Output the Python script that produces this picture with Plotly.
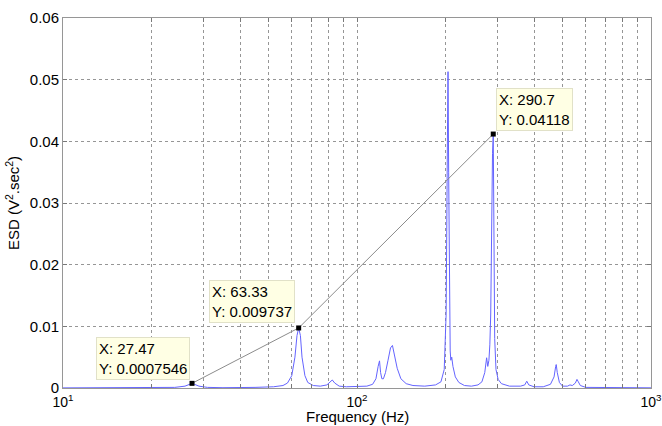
import numpy as np
import plotly.graph_objects as go

# ---- data ----
freq_hz = [10, 15, 20, 24, 26, 27, 27.47, 28, 29, 31, 35, 45, 52, 56, 58, 60, 61.5, 62.5, 63.33,
           64.2, 65, 66.5, 68, 71, 75, 79, 81, 82.4, 84, 87, 92, 100, 108, 113, 116, 118, 119.3,
           120.3, 121.5, 123, 125, 127.5, 130, 132, 134, 137, 141, 147, 155, 160, 170, 185, 193,
           198, 201, 203, 204, 205, 206, 207.5, 208.5, 210, 212, 216, 222, 232, 245, 258, 266,
           272, 276, 278.5, 281, 283, 285, 287, 289, 290.7, 292, 294, 297, 302, 310, 330, 360,
           372, 378, 384, 400, 430, 455, 468, 474, 476, 480, 488, 500, 520, 530, 540, 553, 560,
           566, 575, 600, 700, 1000]
esd_values = [0.00002, 0.00003, 0.00005, 0.0001, 0.0003, 0.0006, 0.00075, 0.0006, 0.0003, 0.0001,
              0.00005, 0.0001, 0.0002, 0.0004, 0.0008, 0.002, 0.005, 0.0085, 0.009737,
              0.0085, 0.005, 0.002, 0.0009, 0.0004, 0.0003, 0.0005, 0.0009, 0.0013, 0.0008, 0.0003,
              0.0002, 0.0002, 0.0003, 0.0006, 0.0015, 0.0035, 0.0044,
              0.0025, 0.0015, 0.0015, 0.0025, 0.0045, 0.0065, 0.0069, 0.0055, 0.0032, 0.0015,
              0.0007, 0.0004, 0.0004, 0.0003, 0.0005, 0.001,
              0.003, 0.012, 0.04, 0.0513, 0.035, 0.015, 0.006, 0.0045, 0.005, 0.0035, 0.0018,
              0.0009, 0.0004, 0.0003, 0.0005, 0.001,
              0.0025, 0.0049, 0.0035, 0.0045, 0.007, 0.012, 0.029, 0.038, 0.04118, 0.025, 0.008,
              0.003, 0.0014, 0.0007, 0.0003, 0.0003,
              0.0005, 0.0011, 0.0005, 0.0002, 0.0002, 0.0006, 0.0018, 0.0035, 0.0038, 0.0025,
              0.0009, 0.0003, 0.0003, 0.0005, 0.0004, 0.0008, 0.0014,
              0.0010, 0.0004, 0.0001, 0.00005, 0.00003]

tip_freq = [27.47, 63.33, 290.7]
tip_esd = [0.0007546, 0.009737, 0.04118]
tip_labels = ["X: 27.47<br>Y: 0.0007546", "X: 63.33<br>Y: 0.009737", "X: 290.7<br>Y: 0.04118"]

x_tickvals = [10, 20, 30, 40, 50, 60, 70, 80, 90, 100, 200, 300, 400, 500, 600, 700, 800, 900, 1000]
x_ticktext = ["10<sup>1</sup>", "", "", "", "", "", "", "", "", "10<sup>2</sup>",
              "", "", "", "", "", "", "", "", "10<sup>3</sup>"]
y_tickvals = [0, 0.01, 0.02, 0.03, 0.04, 0.05, 0.06]
y_ticktext = ["0", "0.01", "0.02", "0.03", "0.04", "0.05", "0.06"]

FONT = "Liberation Sans, Arial, sans-serif"

fig = go.Figure()
fig.add_trace(go.Scatter(x=freq_hz, y=esd_values, mode="lines",
                         line=dict(color="rgb(100,100,255)", width=1), hoverinfo="skip"))
fig.add_trace(go.Scatter(x=tip_freq, y=tip_esd, mode="lines+markers",
                         line=dict(color="rgb(140,140,140)", width=1),
                         marker=dict(symbol="square", size=5, color="black"), hoverinfo="skip"))

# datatip boxes
anchors = [("right", "bottom", -2, 3), ("right", "bottom", -4, 5), ("left", "bottom", 3, 3)]
for fx, fy, txt, (xa, ya, xs, ys) in zip(tip_freq, tip_esd, tip_labels, anchors):
    fig.add_annotation(x=np.log10(fx), y=fy, text=txt, showarrow=False, align="left",
                       xanchor=xa, yanchor=ya, xshift=xs, yshift=ys,
                       bgcolor="rgb(255,255,228)", bordercolor="rgb(225,225,200)",
                       borderwidth=1, borderpad=2,
                       font=dict(family=FONT, size=15, color="black"))

# x-axis title placed as paper annotation
fig.add_annotation(text="Frequency (Hz)", xref="paper", yref="paper", x=0.5, y=-0.078,
                   xanchor="center", yanchor="middle", showarrow=False,
                   font=dict(family=FONT, size=15, color="black"))

fig.update_layout(
    width=662, height=426,
    margin=dict(l=63, r=11, t=18, b=38, autoexpand=False),
    paper_bgcolor="white", plot_bgcolor="white",
    showlegend=False,
    font=dict(family=FONT, size=15, color="black"),
)
fig.update_xaxes(type="log", range=[1, 3], tickvals=x_tickvals, ticktext=x_ticktext,
                 ticks="inside", ticklen=4, tickcolor="rgb(120,120,120)",
                 showline=True, linecolor="rgb(150,150,150)", linewidth=1, mirror="allticks",
                 showgrid=True, gridcolor="rgb(150,150,150)", griddash="dot", gridwidth=1,
                 zeroline=False, automargin=False, ticklabelstandoff=1,
                 ticklabeloverflow="allow",
                 tickfont=dict(size=14))
fig.update_yaxes(range=[0, 0.06], tickvals=y_tickvals, ticktext=y_ticktext,
                 ticks="inside", ticklen=4, tickcolor="rgb(120,120,120)",
                 showline=True, linecolor="rgb(150,150,150)", linewidth=1, mirror="allticks",
                 showgrid=True, gridcolor="rgb(150,150,150)", griddash="dot", gridwidth=1,
                 zeroline=False, automargin=False,
                 title=dict(text="ESD (V<sup>2</sup>.sec<sup>2</sup>)", standoff=6, font=dict(size=15)),
                 tickfont=dict(size=15))

fig.write_html("out.html", config={"displayModeBar": False},
               post_script="document.body.style.margin='0';document.body.style.overflow='hidden';")
